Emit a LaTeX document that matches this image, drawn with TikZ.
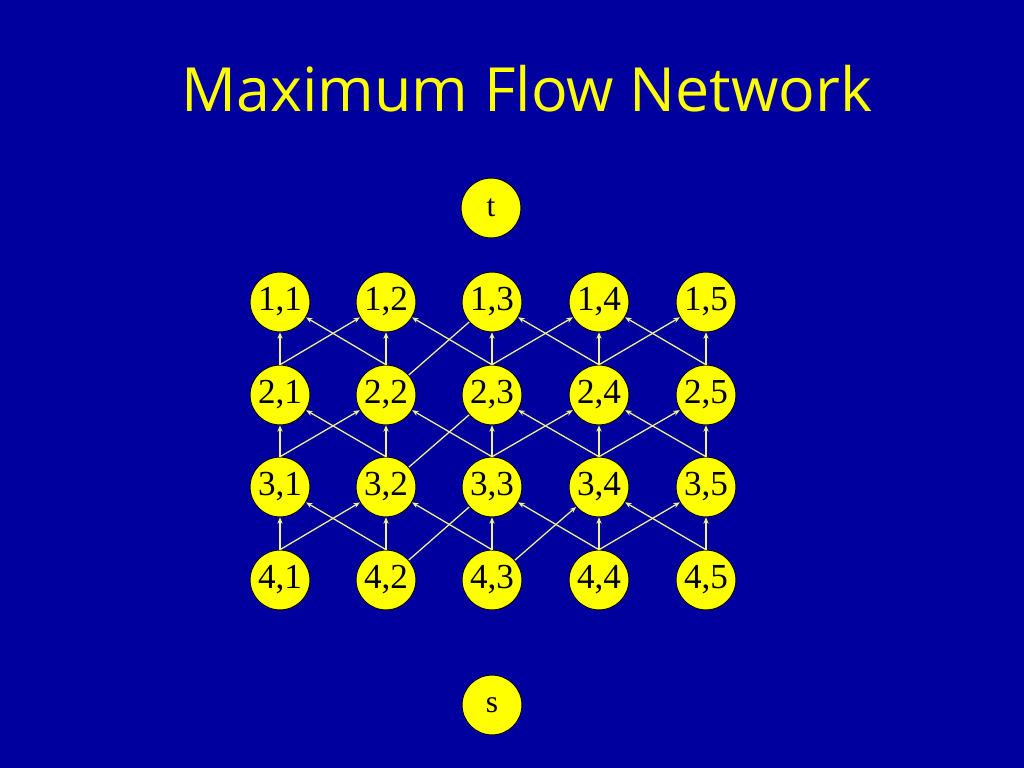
\documentclass[tikz,border=0pt]{standalone}
\usepackage{fontspec}
\setmainfont{Liberation Serif}
\newfontfamily\titlefont{Open Sans}
\usetikzlibrary{arrows.meta}
\definecolor{slideblue}{RGB}{0,0,158}
\definecolor{nodeyellow}{RGB}{255,255,0}
\definecolor{edgeyellow}{RGB}{240,240,140}
\tikzset{
  vtx/.style={circle, draw=black, line width=0.7pt, fill=nodeyellow, inner sep=0pt,
    minimum size=51pt, font=\fontsize{30}{33}\selectfont},
  endvtx/.style={vtx, font=\fontsize{27}{30}\selectfont},
  flow/.style={draw=edgeyellow, line width=1.1pt, -{Stealth[length=5.5pt,width=4.5pt]}},
  plainflow/.style={draw=edgeyellow, line width=1.1pt}
}

\begin{document}
\begin{tikzpicture}[x=0.03cm, y=-0.03cm]
		%%%%% START %%%%%
		
		\fill[slideblue] (0, 0) rectangle (1024, 768);
		\useasboundingbox (0, 0) rectangle (1024, 768);
		
		\node[text=nodeyellow, font=\titlefont\fontsize{52}{58}\selectfont] (title) at (527, 89) {Maximum Flow Network};
		
		\node[endvtx] (t) at (491, 208) {t};
		\node[endvtx] (s) at (492, 705) {s};
		
		\node[vtx] (n11) at (280, 302) {1,1};
		\node[vtx] (n12) at (386, 302) {1,2};
		\node[vtx] (n13) at (492, 302) {1,3};
		\node[vtx] (n14) at (599, 302) {1,4};
		\node[vtx] (n15) at (706, 302) {1,5};
		
		\node[vtx] (n21) at (280, 395) {2,1};
		\node[vtx] (n22) at (386, 395) {2,2};
		\node[vtx] (n23) at (492, 395) {2,3};
		\node[vtx] (n24) at (599, 395) {2,4};
		\node[vtx] (n25) at (706, 395) {2,5};
		
		\node[vtx] (n31) at (280, 487) {3,1};
		\node[vtx] (n32) at (386, 487) {3,2};
		\node[vtx] (n33) at (492, 487) {3,3};
		\node[vtx] (n34) at (599, 487) {3,4};
		\node[vtx] (n35) at (706, 487) {3,5};
		
		\node[vtx] (n41) at (280, 580) {4,1};
		\node[vtx] (n42) at (386, 580) {4,2};
		\node[vtx] (n43) at (492, 580) {4,3};
		\node[vtx] (n44) at (599, 580) {4,4};
		\node[vtx] (n45) at (706, 580) {4,5};
		
		% row 2 up to row 1
		\draw[flow] (n21) -- (n11);
		\draw[flow] (n22) -- (n12);
		\draw[flow] (n23) -- (n13);
		\draw[flow] (n24) -- (n14);
		\draw[flow] (n25) -- (n15);
		\draw[flow] (n21.north) -- (n12);
		\draw[flow] (n22.north) -- (n11);
		\draw[plainflow] (n22) -- (n13);
		\draw[flow] (n23.north) -- (n12);
		\draw[flow] (n23.north) -- (n14);
		\draw[flow] (n24.north) -- (n13);
		\draw[flow] (n24.north) -- (n15);
		\draw[flow] (n25.north) -- (n14);
		
		% row 3 up to row 2
		\draw[flow] (n31) -- (n21);
		\draw[flow] (n32) -- (n22);
		\draw[flow] (n33) -- (n23);
		\draw[flow] (n34) -- (n24);
		\draw[flow] (n35) -- (n25);
		\draw[flow] (n31.north) -- (n22);
		\draw[flow] (n32.north) -- (n21);
		\draw[plainflow] (n32) -- (n23);
		\draw[flow] (n33.north) -- (n22);
		\draw[flow] (n33.north) -- (n24);
		\draw[flow] (n34.north) -- (n23);
		\draw[flow] (n34.north) -- (n25);
		\draw[flow] (n35.north) -- (n24);
		
		% row 4 up to row 3
		\draw[flow] (n41) -- (n31);
		\draw[flow] (n42) -- (n32);
		\draw[flow] (n43) -- (n33);
		\draw[flow] (n44) -- (n34);
		\draw[flow] (n45) -- (n35);
		\draw[flow] (n41.north) -- (n32);
		\draw[flow] (n42.north) -- (n31);
		\draw[plainflow] (n42) -- (n33);
		\draw[flow] (n43.north) -- (n32);
		\draw[flow] (n43) -- (n34);
		\draw[flow] (n44.north) -- (n33);
		\draw[flow] (n44.north) -- (n35);
		\draw[flow] (n45.north) -- (n34);
		
		%%%%% END %%%%%
	\end{tikzpicture}
\end{document}
